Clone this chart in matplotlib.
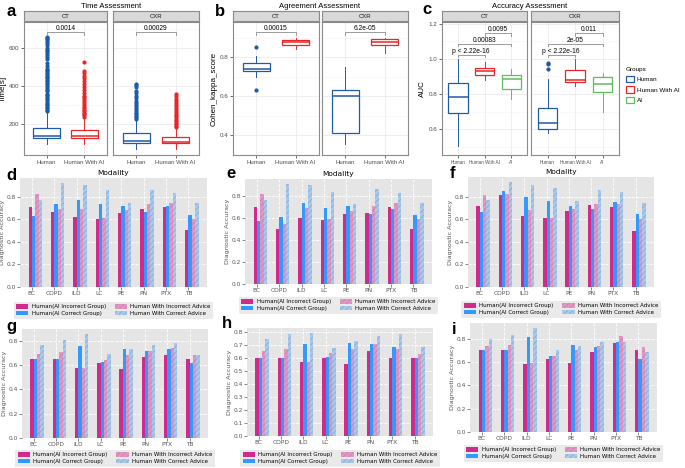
import numpy as np
import matplotlib.pyplot as plt
from matplotlib.patches import Patch
from matplotlib.ticker import MultipleLocator

W, H = 685, 468

# ---------------- top row: box plot summaries [whislo, q1, median, q3, whishi] ----------------
time_groups = ['Human', 'Human With AI']
time_ct = [[95, 125, 137, 180, 262], [95, 126, 137, 168, 232]]
time_cxr = [[70, 100, 111, 152, 225], [70, 100, 107, 132, 178]]
time_ct_out = [[268, 275, 282, 290, 298, 305, 313, 320, 330, 338, 345, 352, 360, 372, 380, 392,
                400, 410, 418, 425, 432, 440, 448, 455, 462, 470, 478, 485, 492, 505, 520, 540,
                555, 565, 575, 585, 592, 600, 615, 625, 635, 645, 652, 660],
               [238, 245, 252, 260, 268, 276, 284, 292, 300, 310, 320, 330, 340, 350, 365, 380,
                395, 410, 425, 440, 455, 468, 480, 527]]
time_cxr_out = [[228, 236, 244, 252, 260, 270, 280, 290, 300, 310, 322, 335, 350, 362, 375, 395,
                 405, 412],
                [182, 190, 198, 206, 214, 222, 230, 240, 250, 260, 270, 280, 290, 300, 310, 320,
                 332, 345, 360]]
time_p = ['0.0014', '0.00029']

kappa_ct = [[0.70, 0.73, 0.738, 0.77, 0.805], [0.84, 0.862, 0.877, 0.887, 0.90]]
kappa_cxr = [[0.354, 0.41, 0.60, 0.63, 0.75], [0.82, 0.862, 0.877, 0.892, 0.90]]
kappa_ct_out = [[0.63, 0.85], []]
kappa_cxr_out = [[], []]
kappa_p = ['0.00015', '6.2e-05']

auc_groups = ['Human', 'Human With AI', 'AI']
auc_ct = [[0.507, 0.69, 0.785, 0.862, 1.0], [0.88, 0.91, 0.93, 0.95, 0.985],
          [0.77, 0.826, 0.885, 0.907, 0.94]]
auc_cxr = [[0.577, 0.60, 0.634, 0.718, 0.887], [0.848, 0.866, 0.882, 0.938, 1.0],
           [0.70, 0.81, 0.857, 0.895, 0.917]]
auc_ct_out = [[], [], []]
auc_cxr_out = [[0.94, 0.97, 0.977], [], []]
auc_p_ct = ['p < 2.22e-16', '0.00083', '0.0095']
auc_p_cxr = ['p < 2.22e-16', '2e-05', '0.011']

group_colors = ['#1F5AA6', '#E8262A', '#5CBF5C']

# ---------------- bar panels d-i ----------------
modalities = ['BC', 'COPD', 'ILD', 'LC', 'PE', 'PN', 'PTX', 'TB']
series = ['Human(AI Incorrect Group)', 'Human(AI Correct Group)',
          'Human With Incorrect Advice', 'Human With Correct Advice']
acc_d = [[0.708, 0.664, 0.616, 0.60, 0.655, 0.69, 0.705, 0.50],
         [0.625, 0.732, 0.767, 0.73, 0.715, 0.66, 0.72, 0.635],
         [0.82, 0.693, 0.687, 0.61, 0.68, 0.73, 0.74, 0.60],
         [0.767, 0.918, 0.904, 0.86, 0.74, 0.86, 0.835, 0.745]]
acc_e = [[0.70, 0.50, 0.60, 0.585, 0.635, 0.645, 0.70, 0.50],
         [0.575, 0.61, 0.74, 0.695, 0.71, 0.635, 0.68, 0.625],
         [0.815, 0.55, 0.69, 0.595, 0.665, 0.71, 0.735, 0.595],
         [0.76, 0.91, 0.90, 0.84, 0.725, 0.86, 0.83, 0.74]]
acc_f = [[0.72, 0.82, 0.63, 0.61, 0.675, 0.73, 0.71, 0.50],
         [0.67, 0.85, 0.795, 0.76, 0.72, 0.69, 0.755, 0.645],
         [0.82, 0.83, 0.685, 0.61, 0.69, 0.74, 0.74, 0.60],
         [0.77, 0.93, 0.905, 0.875, 0.76, 0.86, 0.84, 0.745]]
acc_g = [[0.65, 0.65, 0.575, 0.615, 0.57, 0.67, 0.68, 0.65],
         [0.65, 0.65, 0.76, 0.63, 0.73, 0.715, 0.73, 0.615],
         [0.695, 0.705, 0.575, 0.645, 0.68, 0.72, 0.745, 0.68],
         [0.77, 0.805, 0.855, 0.69, 0.73, 0.77, 0.78, 0.685]]
acc_h = [[0.60, 0.60, 0.565, 0.60, 0.55, 0.655, 0.60, 0.60],
         [0.60, 0.60, 0.71, 0.61, 0.715, 0.71, 0.68, 0.60],
         [0.65, 0.665, 0.565, 0.64, 0.665, 0.71, 0.665, 0.63],
         [0.745, 0.78, 0.79, 0.675, 0.73, 0.77, 0.78, 0.685]]
acc_i = [[0.70, 0.70, 0.585, 0.63, 0.59, 0.69, 0.765, 0.70],
         [0.70, 0.70, 0.815, 0.655, 0.75, 0.725, 0.775, 0.63],
         [0.74, 0.75, 0.59, 0.65, 0.70, 0.74, 0.82, 0.73],
         [0.795, 0.835, 0.89, 0.70, 0.735, 0.77, 0.775, 0.685]]

bar_face = ['#CF2A8C', '#3399FF', '#E396C4', '#A9C9EC']
bar_edge = ['#CF2A8C', '#3399FF', '#B97CA2', '#7C9CC4']
bar_hatch = [None, None, '//////', '//////']

plt.rcParams['hatch.linewidth'] = 0.4
fig = plt.figure(figsize=(W / 100, H / 100), dpi=100)
FONT = 'Liberation Sans'


def frac(x0, y0, x1, y1):
    return [x0 / W, 1 - y1 / H, (x1 - x0) / W, (y1 - y0) / H]


def facet(x0, x1, stats, outs, labels, strip, ylim, major, minor, width,
          show_y, pvals, pairs, bracket_y, tip):
    ax = fig.add_axes(frac(x0, 22, x1, 155))
    n = len(stats)
    pos = list(range(1, n + 1))
    bst = [dict(whislo=s[0], q1=s[1], med=s[2], q3=s[3], whishi=s[4], fliers=o)
           for s, o in zip(stats, outs)]
    art = ax.bxp(bst, positions=pos, widths=width, patch_artist=True,
                 showcaps=False, manage_ticks=False)
    for i, c in enumerate(group_colors[:n]):
        art['boxes'][i].set(facecolor='white', edgecolor=c, linewidth=0.9)
        art['medians'][i].set(color=c, linewidth=1.1)
        art['whiskers'][2 * i].set(color=c, linewidth=0.7)
        art['whiskers'][2 * i + 1].set(color=c, linewidth=0.7)
        art['fliers'][i].set(marker='o', markerfacecolor=c, markeredgecolor=c,
                             markersize=2.0, linestyle='none')
    ax.set_xlim(0.4, n + 0.6)
    ax.set_ylim(*ylim)
    ax.set_yticks(major)
    ax.set_yticks(minor, minor=True)
    ax.set_xticks(pos)
    ax.set_xticklabels(labels, fontsize=4.3 if n == 2 else 3.3, color='#4D4D4D',
                       family=FONT)
    ax.grid(True, which='major', color='#EBEBEB', linewidth=0.6)
    ax.grid(True, which='minor', axis='y', color='#F4F4F4', linewidth=0.4)
    ax.set_axisbelow(True)
    ax.tick_params(axis='both', length=2, width=0.5, color='#333333', pad=1.5)
    ax.tick_params(axis='y', which='minor', length=0)
    if show_y:
        for t in ax.get_yticklabels():
            t.set_fontsize(4.5)
            t.set_color('#4D4D4D')
            t.set_family(FONT)
    else:
        ax.tick_params(axis='y', labelleft=False, length=0)
    for s in ax.spines.values():
        s.set_color('#8A8A8A')
        s.set_linewidth(0.8)
    for (a, b), p, yb in zip(pairs, pvals, bracket_y):
        ax.plot([a, a, b, b], [yb - tip, yb, yb, yb - tip], color='#8C8C8C',
                linewidth=0.6)
        ax.text((a + b) / 2, yb + tip * 0.2, p, ha='center', va='bottom',
                fontsize=4.8, family=FONT)
    st = fig.add_axes(frac(x0, 11, x1, 21))
    st.set_facecolor('#D9D9D9')
    st.set_xticks([])
    st.set_yticks([])
    for s in st.spines.values():
        s.set_color('#8A8A8A')
        s.set_linewidth(0.8)
    st.text(0.5, 0.45, strip, ha='center', va='center', fontsize=4.3,
            color='#1A1A1A', family=FONT, transform=st.transAxes)
    return ax


# panel a
ax = facet(24, 107, time_ct, time_ct_out, time_groups, 'CT', (37, 737),
           [200, 400, 600], [100, 300, 500, 700], 0.7, True, [time_p[0]], [(1, 2)],
           [684], 14)
ax.set_ylabel('Time[s]', fontsize=5.8, family=FONT, labelpad=1.5)
facet(113, 199, time_cxr, time_cxr_out, time_groups, 'CXR', (37, 737),
      [200, 400, 600], [100, 300, 500, 700], 0.7, False, [time_p[1]], [(1, 2)],
      [684], 14)

# panel b
ax = facet(233, 319, kappa_ct, kappa_ct_out, time_groups, 'CT', (0.30, 0.98),
           [0.4, 0.6, 0.8], [0.3, 0.5, 0.7, 0.9], 0.7, True, [kappa_p[0]], [(1, 2)],
           [0.927], 0.014)
ax.set_ylabel('Cohen_kappa_score', fontsize=5.8, family=FONT, labelpad=1.5)
facet(322, 408, kappa_cxr, kappa_cxr_out, time_groups, 'CXR', (0.30, 0.98),
      [0.4, 0.6, 0.8], [0.3, 0.5, 0.7, 0.9], 0.7, False, [kappa_p[1]], [(1, 2)],
      [0.927], 0.014)

# panel c
auc_pairs = [(1, 2), (1, 3), (2, 3)]
ax = facet(442, 527, auc_ct, auc_ct_out, auc_groups, 'CT', (0.453, 1.21),
           [0.6, 0.8, 1.0, 1.2], [0.5, 0.7, 0.9, 1.1], 0.72, True, auc_p_ct, auc_pairs,
           [1.02, 1.085, 1.145], 0.012)
ax.set_ylabel('AUC', fontsize=5.8, family=FONT, labelpad=1.5)
facet(531, 619, auc_cxr, auc_cxr_out, auc_groups, 'CXR', (0.453, 1.21),
      [0.6, 0.8, 1.0, 1.2], [0.5, 0.7, 0.9, 1.1], 0.72, False, auc_p_cxr, auc_pairs,
      [1.02, 1.085, 1.145], 0.012)

fig.legend(handles=[Patch(facecolor='white', edgecolor=c, linewidth=0.9) for c in group_colors],
           labels=auc_groups, title='Groups', loc='upper left',
           bbox_to_anchor=(626 / W, 1 - 67 / H), frameon=False,
           prop={'family': FONT, 'size': 4.6},
           title_fontproperties={'family': FONT, 'size': 4.6},
           handlelength=1.3, handleheight=1.2, labelspacing=0.6, alignment='left',
           handletextpad=0.4, borderaxespad=0, borderpad=0)

fig.text(111 / W, 1 - 6 / H, 'Time Assessment', ha='center', va='center',
         fontsize=5.5, family=FONT)
fig.text(320 / W, 1 - 6 / H, 'Agreement Assessment', ha='center', va='center',
         fontsize=5.5, family=FONT)
fig.text(530 / W, 1 - 6 / H, 'Accuracy Assessment', ha='center', va='center',
         fontsize=5.5, family=FONT)


# ---------------- bar panels ----------------
def bars(rect, acc, step, title, leg_gap):
    x0, y0, x1, y1 = rect
    ax = fig.add_axes(frac(x0, y0, x1, y1))
    ax.set_facecolor('#E5E5E5')
    x = np.arange(len(modalities))
    w = 0.15
    handles = []
    for k, vals in enumerate(acc):
        b = ax.bar(x + (k - 0.5) * w, vals, w, color=bar_face[k], edgecolor=bar_edge[k],
                   linewidth=0, hatch=bar_hatch[k], label=series[k], zorder=2)
        handles.append(b)
    ax.set_xticks(x)
    ax.set_xticklabels(modalities)
    ax.yaxis.set_major_locator(MultipleLocator(step))
    ax.yaxis.set_major_formatter('{x:.1f}')
    ax.grid(True, color='white', linestyle='--', linewidth=0.6, zorder=0)
    ax.set_axisbelow(True)
    for s in ax.spines.values():
        s.set_visible(False)
    ax.tick_params(axis='both', labelsize=4.2, labelcolor='#555555', color='#555555',
                   length=2, width=0.5, pad=1.2)
    ax.set_ylabel('Diagnostic Accuracy', fontsize=4.6, color='#555555', labelpad=1)
    if title:
        ax.set_title(title, fontsize=5.3, pad=2.5)
    hpx = y1 - y0
    leg = ax.legend(handles=handles, ncol=2, loc='upper center',
                    bbox_to_anchor=(0.5, -leg_gap / hpx), fontsize=4.0,
                    frameon=True, facecolor='#E5E5E5', edgecolor='#E5E5E5',
                    handlelength=2.2, handleheight=0.8, labelspacing=0.3,
                    columnspacing=1.6, borderpad=0.45, handletextpad=0.6)
    leg.get_frame().set_linewidth(0)
    return ax


bars((20, 178, 207, 287), acc_d, 0.2, 'Modality', 12)
bars((245, 179, 432, 284), acc_e, 0.2, 'Modality', 10)
bars((468, 177, 654, 287), acc_f, 0.2, 'Modality', 11)
bars((22, 329, 208, 438), acc_g, 0.2, None, 9)
bars((247, 328, 433, 436), acc_h, 0.1, None, 11)
bars((470, 323, 657, 432), acc_i, 0.2, None, 10)

letters = [('a', 6, 12), ('b', 215, 12), ('c', 422, 9), ('d', 6, 175), ('e', 226, 173),
           ('f', 450, 173), ('g', 6, 326), ('h', 222, 324), ('i', 452, 330)]
for t, lx, ly in letters:
    fig.text(lx / W, 1 - ly / H, t, fontsize=12, fontweight='bold', ha='left',
             va='center', family=FONT)

fig.savefig('out.png', dpi=100)
